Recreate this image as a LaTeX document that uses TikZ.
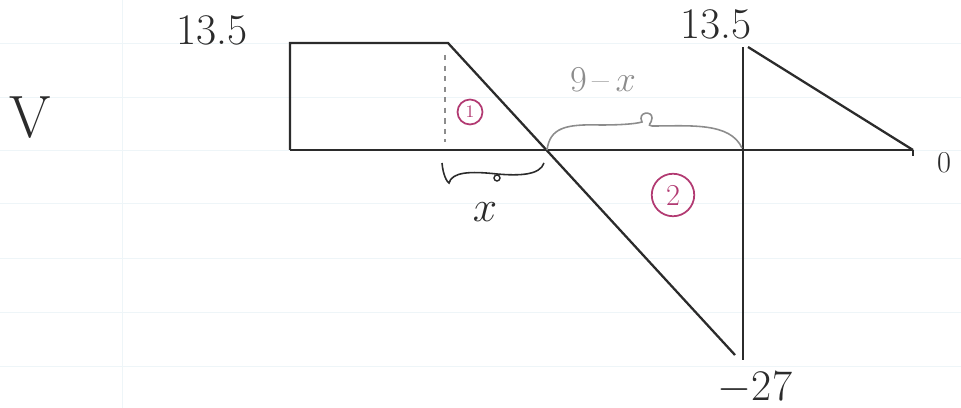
\documentclass[tikz,border=0pt]{standalone}
\usepackage{tikz}
\usepackage{xcolor}
\definecolor{pen}{HTML}{2B2B2B}
\definecolor{pencil}{HTML}{8C8C8C}
\definecolor{ink}{HTML}{B23A72}
\definecolor{paperline}{HTML}{EEF5F8}
\tikzset{
  shear/.style={line width=1.3pt, pen},
  brace/.style={line width=0.9pt, pencil},
  region/.style={circle, draw=ink, text=ink, line width=1pt, inner sep=0pt},
}

\begin{document}
\begin{tikzpicture}[x=0.02cm, y=-0.02cm]
\useasboundingbox (0,0) rectangle (961,408);
% ruled paper
\foreach \yy in {43,97,150,203,258,312,366}
  \draw[paperline, line width=0.5pt] (0,\yy) -- (961,\yy);
\draw[paperline, line width=0.5pt] (122,0) -- (122,408);

\coordinate (A) at (290,150);
\coordinate (B) at (290,43);
\coordinate (C) at (448,43);
\coordinate (Z) at (547,150);
\coordinate (D) at (735,355);
\coordinate (E) at (743,360);
\coordinate (F) at (743,47);
\coordinate (G) at (748,47);
\coordinate (H) at (913,150);

% axis
\draw[line width=1.7pt, pen] (A) -- (H);
\draw[shear] (H) -- ++(0,6);
% shear line
\draw[shear] (A) -- (B) -- (C) -- (D);
\draw[shear] (E) -- (F);
\draw[shear] (G) -- (H);
\draw[pencil, dashed, line width=0.9pt] (445,55) -- (445,142);

% labels
\node[pen] at (30,118) {\fontsize{34}{40}\selectfont V};
\node[pen] at (212,30) {\Huge 13.5};
\node[pen] at (716,24) {\Huge 13.5};
\node[pen] at (755,388) {\Huge $-$27};
\node[pen] at (944,163) {\LARGE 0};
\node[region, minimum size=0.5cm] (r1) at (470,112) {\normalsize 1};
\node[region, minimum size=0.85cm] (r2) at (673,195) {\LARGE 2};

% braces
\draw[brace] (Z) .. controls (550,128) and (565,124) .. (600,125)
  .. controls (620,125) and (635,124) .. (642,122)
  .. controls (637,112) and (652,110) .. (652,118)
  .. controls (652,124) and (646,125) .. (652,126)
  .. controls (690,126) and (730,122) .. (742,148);
\node[pencil] at (603,80) {\huge 9\,--\,$x$};
\draw[pen, line width=0.9pt] (442,163) .. controls (443,175) and (447,182) .. (449,183)
  .. controls (452,172) and (470,171) .. (497,174)
  .. controls (520,176) and (540,175) .. (544,163);
\draw[pen, line width=0.8pt] (497,178) circle (3);
\node[pen] at (485,212) {\Huge $x$};
\end{tikzpicture}
\end{document}
